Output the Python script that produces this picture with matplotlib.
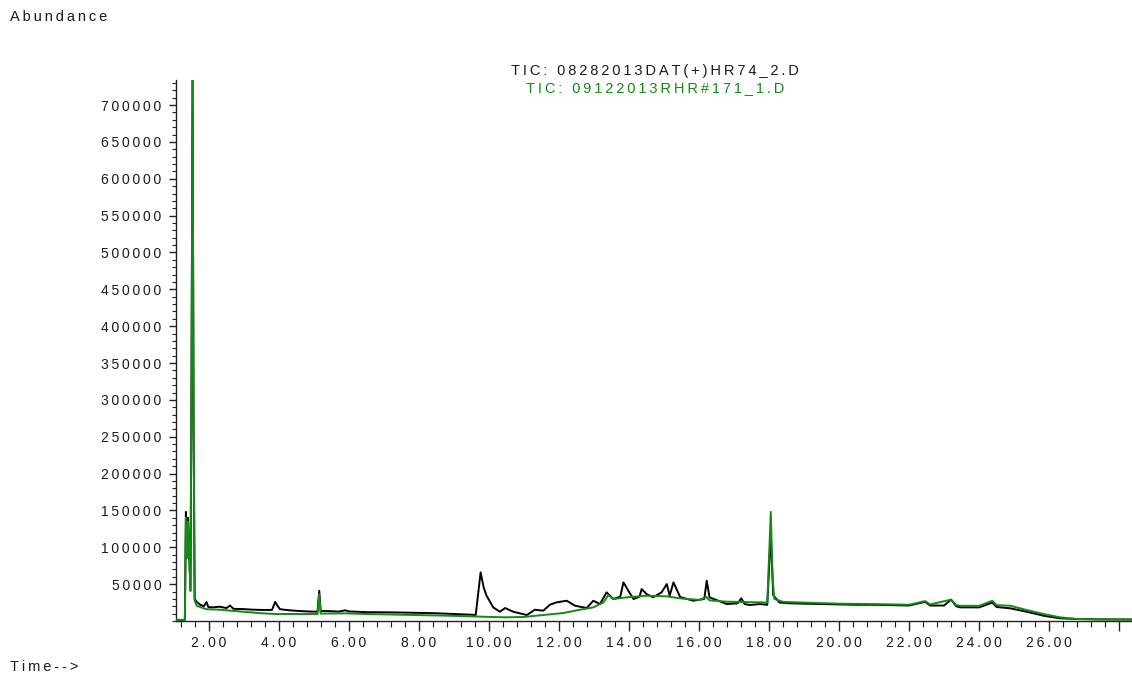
import matplotlib
matplotlib.use("Agg")
import matplotlib.pyplot as plt
from matplotlib.ticker import MultipleLocator, FixedLocator, FuncFormatter

plt.rcParams['font.family'] = ['Liberation Sans', 'DejaVu Sans']
plt.rcParams['font.size'] = 10

# Total ion chromatograms: retention time (min) and abundance
black_name = "TIC: 08282013DAT(+)HR74_2.D"
green_name = "TIC: 09122013RHR#171_1.D"

black_time = [1.06, 1.31, 1.34, 1.37, 1.40, 1.47, 1.50, 1.53, 1.56, 1.59, 1.65, 1.75, 1.85,
              1.93, 1.98, 2.10, 2.31, 2.50, 2.60, 2.70, 2.97, 3.20, 3.50, 3.80, 3.89, 3.95,
              4.03, 4.30, 4.60, 4.90, 5.10, 5.15, 5.19, 5.40, 5.70, 5.89, 6.00, 6.50, 7.00,
              7.50, 8.00, 8.50, 9.00, 9.50, 9.62, 9.76, 9.85, 9.93, 10.12, 10.31, 10.46,
              10.69, 11.08, 11.31, 11.55, 11.74, 11.93, 12.22, 12.46, 12.79, 12.98, 13.17,
              13.36, 13.55, 13.75, 13.84, 13.90, 13.98, 14.13, 14.30, 14.36, 14.50, 14.69,
              14.93, 15.08, 15.16, 15.27, 15.46, 15.84, 16.15, 16.22, 16.30, 16.79, 17.10,
              17.21, 17.30, 17.46, 17.74, 17.95, 18.05, 18.12, 18.30, 18.60, 19.00, 19.50,
              20.00, 20.50, 21.00, 21.50, 22.00, 22.46, 22.60, 23.00, 23.20, 23.35, 23.46,
              24.00, 24.38, 24.50, 24.89, 25.36, 25.84, 26.31, 26.79, 27.50, 28.37]
black_abund = [1500, 1500, 148000, 88000, 140000, 41000, 320000, 734000, 260000, 30000,
               26000, 22000, 20000, 25700, 19000, 18500, 19400, 17500, 21000, 16500, 16200,
               15500, 15000, 15000, 26000, 21000, 16000, 14500, 13500, 12800, 12600, 41000,
               13500, 13500, 12800, 14500, 13000, 12000, 11800, 11500, 11000, 10500, 9500,
               8500, 8200, 66000, 45000, 34300, 18500, 12600, 17600, 12600, 8100, 15300,
               14000, 22100, 25300, 27500, 20700, 17600, 27500, 23000, 38900, 29800, 33000,
               52400, 47800, 41000, 29800, 33000, 43400, 36600, 32100, 38900, 50100, 34300,
               52400, 32500, 27500, 30000, 54600, 32100, 23000, 24000, 30700, 23000, 21700,
               23000, 22000, 118000, 35000, 25000, 24000, 23500, 23000, 22500, 22000, 22000,
               21500, 21000, 26000, 21000, 21000, 29000, 20000, 18500, 18500, 25000, 19000,
               17200, 12600, 7200, 3700, 2700, 2200, 2000]

green_time = [1.06, 1.31, 1.34, 1.37, 1.40, 1.47, 1.50, 1.53, 1.56, 1.59, 1.65, 1.80, 1.93,
              2.31, 2.97, 3.50, 3.89, 4.50, 5.10, 5.15, 5.19, 5.89, 6.50, 7.00, 8.00, 9.00,
              9.50, 10.00, 10.50, 11.00, 11.55, 12.12, 12.60, 12.98, 13.27, 13.41, 13.55,
              13.93, 14.50, 15.08, 15.46, 16.03, 16.20, 16.30, 16.79, 17.74, 17.95, 18.05,
              18.10, 18.15, 18.40, 19.00, 20.00, 21.00, 22.00, 22.46, 22.60, 23.20, 23.35,
              23.46, 24.00, 24.38, 24.50, 24.89, 25.36, 25.84, 26.31, 26.79, 27.50, 28.37]
green_abund = [1500, 1500, 140000, 85000, 135000, 41000, 330000, 740000, 270000, 27500,
               20700, 18000, 16000, 15300, 12600, 10500, 9500, 9500, 9500, 36600, 10000,
               10400, 9500, 9000, 8000, 7000, 6300, 5500, 5000, 5500, 8100, 10800, 15300,
               18500, 25300, 35200, 29800, 32100, 34300, 33400, 30700, 28500, 33000, 28000,
               26200, 25300, 25000, 148000, 60000, 30000, 26000, 25000, 23500, 23000, 22000,
               27000, 22500, 29000, 21500, 20700, 20500, 27500, 21500, 20700, 14900, 9500,
               5000, 2700, 2200, 2000]

x_major = [2, 4, 6, 8, 10, 12, 14, 16, 18, 20, 22, 24, 26, 28]
x_labelled_max = 26
y_major = list(range(50000, 700001, 50000))

GREEN = '#138a13'
TEXT = '#1a1a1a'


def spaced(s):
    return '\u2009'.join(s)


fig = plt.figure(figsize=(11.32, 6.77), dpi=100)
ax = fig.add_axes([176 / 1132, 1 - 621 / 677, 1 - 176 / 1132, (621 - 80) / 677])

ax.plot(black_time, black_abund, color='black', lw=1.4, zorder=2)
ax.plot(green_time, green_abund, color=GREEN, lw=1.4, zorder=3)

ax.set_xlim(1.057, 28.37)
ax.set_ylim(0, 734000)

for side in ('top', 'right'):
    ax.spines[side].set_visible(False)
for side in ('left', 'bottom'):
    ax.spines[side].set_linewidth(1.0)
    ax.spines[side].set_color('#222222')

ax.xaxis.set_major_locator(FixedLocator(x_major))
ax.xaxis.set_minor_locator(MultipleLocator(0.4))
ax.xaxis.set_major_formatter(FuncFormatter(
    lambda v, p: spaced(f"{v:.2f}") if v <= x_labelled_max + 1e-6 else ""))
ax.yaxis.set_major_locator(FixedLocator(y_major))
ax.yaxis.set_minor_locator(MultipleLocator(10000))
ax.yaxis.set_major_formatter(FuncFormatter(lambda v, p: spaced(f"{int(round(v))}")))

ax.tick_params(axis='x', which='major', direction='out', length=7, width=1,
               pad=3.5, labelsize=10, labelcolor=TEXT, color='#222222')
ax.tick_params(axis='x', which='minor', direction='out', length=4, width=0.8, color='#222222')
ax.tick_params(axis='y', which='major', direction='out', length=5, width=1,
               pad=5.5, labelsize=10, labelcolor=TEXT, color='#222222')
ax.tick_params(axis='y', which='minor', direction='out', length=3, width=0.8, color='#222222')

fig.text(655 / 1132, 1 - 71.5 / 677, spaced(black_name), ha='center', va='center',
         fontsize=10.5, color=TEXT)
fig.text(655 / 1132, 1 - 88 / 677, spaced(green_name), ha='center', va='center',
         fontsize=10.5, color=GREEN)
fig.text(10 / 1132, 1 - 17 / 677, spaced("Abundance"), ha='left', va='center',
         fontsize=10.5, color=TEXT)
fig.text(10 / 1132, 1 - 667 / 677, spaced("Time-->"), ha='left', va='center',
         fontsize=10.5, color=TEXT)

fig.savefig('out.png', dpi=100)
